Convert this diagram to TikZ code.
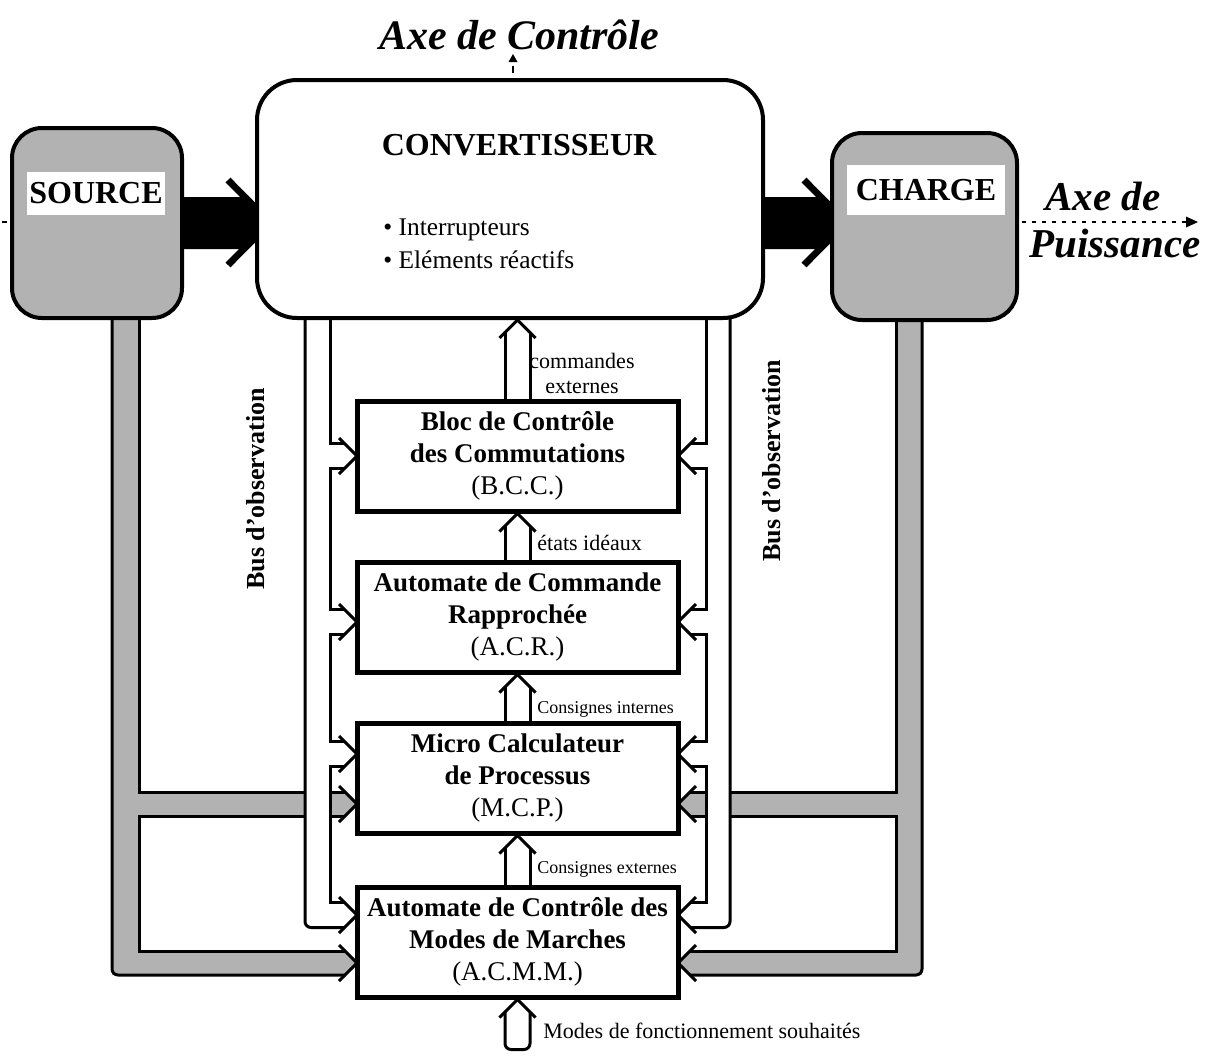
\documentclass[tikz,border=0pt]{standalone}
\usepackage{fontspec}
\setmainfont{Liberation Serif}
\usetikzlibrary{calc}
\pgfdeclarelayer{background}
\pgfsetlayers{background,main}
% open chevron heads: tip at #1, pointing east / west / north
\newcommand\chevE[1]{\draw[wire] ($(#1)+(-18,-18)$) -- (#1) -- ($(#1)+(-18,18)$);}
\newcommand\chevW[1]{\draw[wire] ($(#1)+(18,-18)$) -- (#1) -- ($(#1)+(18,18)$);}
\newcommand\chevN[1]{\draw[wire] ($(#1)+(-18,18)$) -- (#1) -- ($(#1)+(18,18)$);}
% hollow upward flow from #1 to tip #2
\newcommand\upflow[2]{%
  \draw[wire] ($(#1)+(-12.5,0)$) -- ($(#2)+(-12.5,12.5)$);
  \draw[wire] ($(#1)+(12.5,0)$) -- ($(#2)+(12.5,12.5)$);
  \chevN{#2}}
\begin{document}
\begin{tikzpicture}[x=0.5pt,y=-0.5pt,
  wire/.style={line width=1.5pt,line join=miter,miter limit=10},
  halftone/.style={fill=black!30},
  block/.style={draw,line width=2.5pt,fill=white,minimum width=160.5pt,minimum height=55pt,
    inner sep=0pt,align=center,font=\fontsize{13.5}{16}\selectfont},
  terminal/.style={draw,line width=2pt,rounded corners=15pt,halftone,inner sep=0pt},
  tag/.style={fill=white,inner sep=0pt,font=\bfseries\fontsize{16}{18}\selectfont},
  note/.style={inner sep=0pt,font=\fontsize{11}{13}\selectfont},
  smallnote/.style={inner sep=0pt,font=\fontsize{9}{11}\selectfont},
  axislabel/.style={inner sep=0pt,font=\bfseries\itshape\fontsize{20.5}{24}\selectfont},
  buslabel/.style={inner sep=0pt,rotate=90,font=\bfseries\fontsize{13}{15}\selectfont},
]
\useasboundingbox (0,0) rectangle (1214,1055);

% ---------- source, converter, load ----------
\node[terminal,minimum width=85pt,minimum height=95pt] (source) at (97,223) {};
\node[tag,minimum width=69pt,minimum height=21.5pt] (sourcetag) at (96,193.5) {SOURCE};
\node[terminal,minimum width=92.5pt,minimum height=93.5pt] (charge) at (924.5,226.5) {};
\node[tag,minimum width=79pt,minimum height=25pt] (chargetag) at (926,190) {CHARGE};
\node[draw,line width=2pt,rounded corners=20pt,fill=white,minimum width=253pt,minimum height=119pt] (conv) at (510,199) {};
\node[inner sep=0pt,anchor=base,font=\bfseries\fontsize{16}{18}\selectfont] (convtitle) at (519,155) {CONVERTISSEUR};
\node[inner sep=0pt,anchor=base west,font=\fontsize{12.7}{15}\selectfont] (item1) at (383,235) {• Interrupteurs};
\node[inner sep=0pt,anchor=base west,font=\fontsize{12.7}{15}\selectfont] (item2) at (383,268) {• Eléments réactifs};

% ---------- control blocks ----------
\node[block] (bcc) at (517.5,456) {\textbf{Bloc de Contrôle}\\\textbf{des Commutations}\\(B.C.C.)};
\node[block] (acr) at (517.5,617) {\textbf{Automate de Commande}\\\textbf{Rapprochée}\\(A.C.R.)};
\node[block] (mcp) at (517.5,778) {\textbf{Micro Calculateur}\\\textbf{de Processus}\\(M.C.P.)};
\node[block] (acmm) at (517.5,942) {\textbf{Automate de Contrôle des}\\\textbf{Modes de Marches}\\(A.C.M.M.)};

% ---------- axis labels ----------
\node[axislabel,anchor=base,font=\bfseries\itshape\fontsize{21}{24}\selectfont] (axisctl) at (519,49) {Axe de Contrôle};
\node[axislabel,anchor=base] (axispw1) at (1103,210) {Axe de};
\node[axislabel,anchor=base] (axispw2) at (1115,257) {Puissance};
\node[buslabel] (busleft) at (256,489) {Bus d'observation};
\node[buslabel] (busright) at (772,461) {Bus d'observation};

% ---------- flow labels ----------
\node[note,anchor=base] (cmdA) at (582,368) {commandes};
\node[note,anchor=base] (cmdB) at (582,393) {externes};
\node[note,anchor=base west] (ideal) at (537,550) {états idéaux};
\node[smallnote,anchor=base west] (intern) at (537,713) {Consignes internes};
\node[smallnote,anchor=base west] (extern) at (537,873) {Consignes externes};
\node[note,anchor=base west] (modes) at (543,1038) {Modes de fonctionnement souhaités};

% ---------- power flow and halftone buses (underneath) ----------
\begin{pgfonlayer}{background}
  \fill (182,197) -- (245,197) -- (270,222.5) -- (245,249) -- (182,249) -- cycle;
  \draw[line width=3.4pt,line join=miter] (228,180) -- (270,222.5) -- (228,265);
  \fill (763,197) -- (821,197) -- (846,222.5) -- (821,249) -- (763,249) -- cycle;
  \draw[line width=3.4pt,line join=miter] (804,180) -- (846,222.5) -- (804,265);
  \fill[halftone] (112,318) -- (112,975) -- (345,975) -- (357,963) -- (345,951) -- (139,951)
    -- (139,816) -- (305,816) -- (305,792) -- (139,792) -- (139,318) -- cycle;
  \fill[halftone] (330,792) -- (345,792) -- (357,804) -- (345,816) -- (330,816) -- cycle;
  \fill[halftone] (922,320) -- (922,975) -- (690,975) -- (678,963) -- (690,951) -- (896,951)
    -- (896,816) -- (730,816) -- (730,792) -- (896,792) -- (896,320) -- cycle;
  \fill[halftone] (706,792) -- (690,792) -- (678,804) -- (690,816) -- (706,816) -- cycle;
\end{pgfonlayer}

% halftone bus outlines, source side
\draw[wire,rounded corners=3pt] (112,318) -- (112,975) -- (345,975);
\draw[wire] (139,318) -- (139,792) -- (305,792);
\draw[wire] (305,816) -- (139,816) -- (139,951) -- (345,951);
\chevE{357,963}
\draw[wire] (330,792) -- (345,792);
\draw[wire] (330,816) -- (345,816);
\chevE{357,804}
% halftone bus outlines, load side
\draw[wire,rounded corners=3pt] (922,320) -- (922,975) -- (690,975);
\draw[wire] (896,320) -- (896,792) -- (730,792);
\draw[wire] (730,816) -- (896,816) -- (896,951) -- (690,951);
\chevW{678,963}
\draw[wire] (706,792) -- (690,792);
\draw[wire] (706,816) -- (690,816);
\chevW{678,804}

% ---------- observation buses from the converter ----------
\draw[wire] (330,318) -- (330,443.5) -- (344.5,443.5);
\draw[wire] (344.5,468.5) -- (330,468.5) -- (330,609.5) -- (344.5,609.5);
\draw[wire] (344.5,634.5) -- (330,634.5) -- (330,741.5) -- (344.5,741.5);
\draw[wire] (344.5,766.5) -- (330,766.5) -- (330,902.5) -- (344.5,902.5);
\draw[wire,rounded corners=3pt] (305,318) -- (305,927.5) -- (344.5,927.5);
\chevE{357,456}
\chevE{357,622}
\chevE{357,754}
\chevE{357,915}
\draw[wire] (706,318) -- (706,443.5) -- (690.5,443.5);
\draw[wire] (690.5,468.5) -- (706,468.5) -- (706,609.5) -- (690.5,609.5);
\draw[wire] (690.5,634.5) -- (706,634.5) -- (706,741.5) -- (690.5,741.5);
\draw[wire] (690.5,766.5) -- (706,766.5) -- (706,902.5) -- (690.5,902.5);
\draw[wire,rounded corners=3pt] (730,318) -- (730,927.5) -- (690.5,927.5);
\chevW{678,456}
\chevW{678,622}
\chevW{678,754}
\chevW{678,915}

% ---------- command flows between blocks ----------
\coordinate (convIn) at (bcc.north |- conv.south);
\upflow{bcc.north}{convIn}
\upflow{acr.north}{bcc.south}
\upflow{mcp.north}{acr.south}
\upflow{acmm.north}{mcp.south}
\draw[wire,rounded corners=3pt] ($(acmm.south)+(-12.5,12.5)$) -- ($(acmm.south)+(-12.5,50)$)
  -- ($(acmm.south)+(12.5,50)$) -- ($(acmm.south)+(12.5,12.5)$);
\chevN{acmm.south}

% ---------- axes ----------
\coordinate (pwrStart) at (1022,222);
\coordinate (pwrEnd) at (1188,222);
\draw[line width=1.3pt,dash pattern=on 2pt off 3pt] (pwrStart) -- (pwrEnd);
\fill (1186,216.5) -- (1198,222) -- (1186,227.5) -- cycle;
\draw[line width=1.3pt] (2,222) -- (7,222);
\coordinate (ctlStart) at (513,73);
\coordinate (ctlEnd) at (513,66);
\draw[line width=1.3pt] (ctlStart) -- (ctlEnd);
\fill (508.5,62) -- (513,54) -- (517.5,62) -- cycle;
\end{tikzpicture}
\end{document}
